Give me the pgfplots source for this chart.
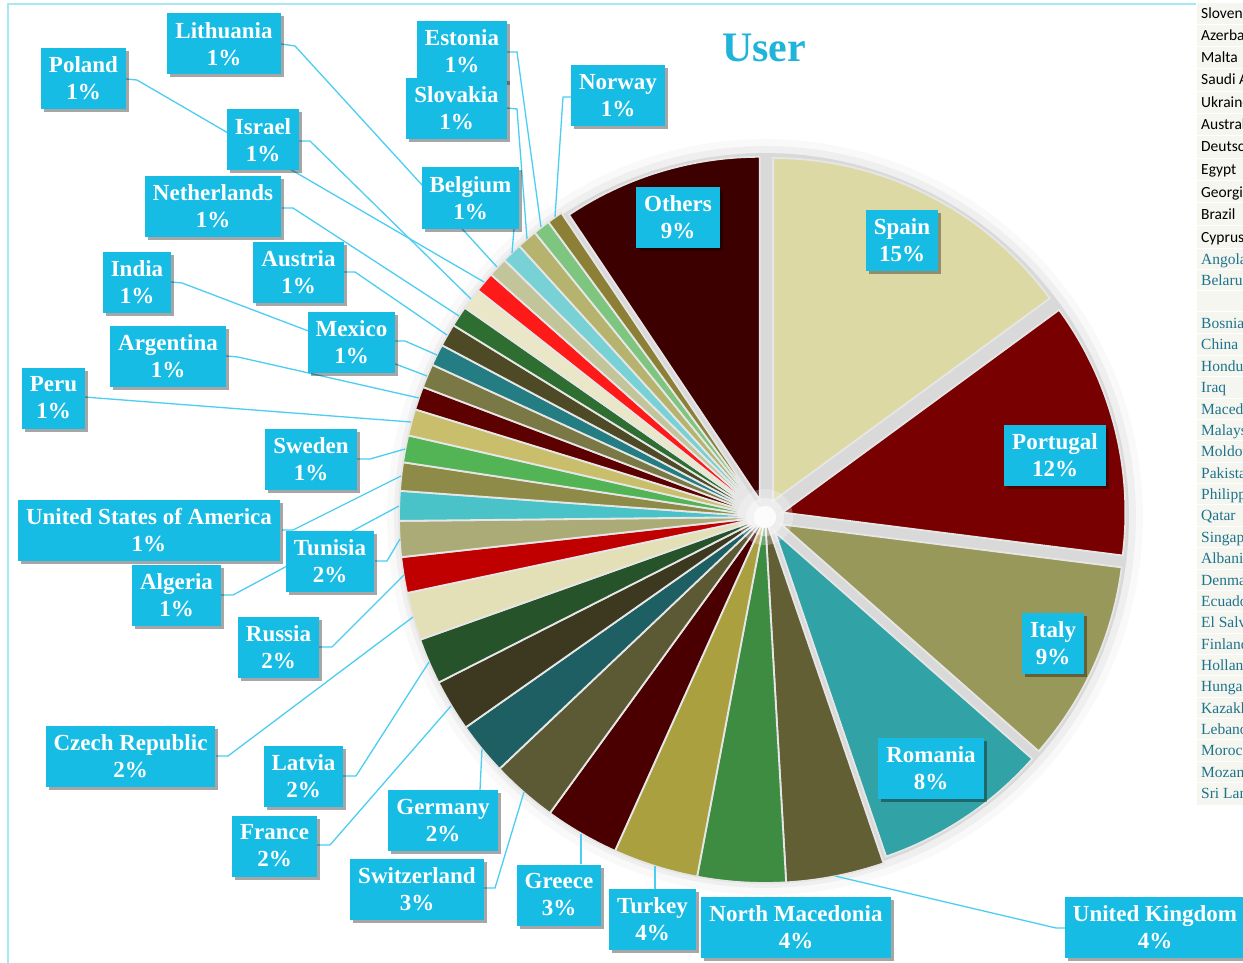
\documentclass[border=0pt]{standalone}
\usepackage{fontspec}
\setmainfont{Liberation Serif}
\newfontfamily\calib{Carlito}
\usepackage{pgfplots}
\pgfplotsset{compat=1.18}
\usetikzlibrary{shadows}

\definecolor{lblcyan}{RGB}{22,188,228}
\definecolor{leadcyan}{RGB}{75,206,242}
\definecolor{titlecyan}{RGB}{33,180,218}
\definecolor{bordercyan}{RGB}{165,232,246}
\definecolor{legblue}{RGB}{30,115,140}
\definecolor{cellbg}{RGB}{246,246,240}
\definecolor{sepcol}{RGB}{230,230,230}
\definecolor{gapgrey}{RGB}{217,217,217}

% slice colours (clockwise from 12 o'clock)
\definecolor{cSpain}{HTML}{DDD9A5}
\definecolor{cPortugal}{HTML}{780000}
\definecolor{cItaly}{HTML}{98985A}
\definecolor{cRomania}{HTML}{31A2A6}
\definecolor{cUK}{HTML}{625F35}
\definecolor{cNMac}{HTML}{3E8C42}
\definecolor{cTurkey}{HTML}{AAA040}
\definecolor{cGreece}{HTML}{4A0000}
\definecolor{cSwitz}{HTML}{5B5A34}
\definecolor{cGermany}{HTML}{1D5F63}
\definecolor{cFrance}{HTML}{3C3920}
\definecolor{cLatvia}{HTML}{27532A}
\definecolor{cCzech}{HTML}{E3DFB6}
\definecolor{cRussia}{HTML}{C00000}
\definecolor{cTunisia}{HTML}{ABAB78}
\definecolor{cAlgeria}{HTML}{4AC3C8}
\definecolor{cUSA}{HTML}{8E8A48}
\definecolor{cSweden}{HTML}{52B455}
\definecolor{cPeru}{HTML}{C9BE6C}
\definecolor{cArgentina}{HTML}{5C0000}
\definecolor{cIndia}{HTML}{7A7845}
\definecolor{cMexico}{HTML}{247D82}
\definecolor{cAustria}{HTML}{4D4A25}
\definecolor{cNether}{HTML}{2E6E30}
\definecolor{cIsrael}{HTML}{EAE6C8}
\definecolor{cPoland}{HTML}{FF1A1A}
\definecolor{cLithuania}{HTML}{C2C49A}
\definecolor{cBelgium}{HTML}{78D2D5}
\definecolor{cSlovakia}{HTML}{B5B36E}
\definecolor{cEstonia}{HTML}{7EC67F}
\definecolor{cNorway}{HTML}{8B8035}
\definecolor{cOthers}{HTML}{3D0000}

% #1 start (cumulative %), #2 end (cumulative %), #3 colour, #4/#5 apex, #6 radius
\newcommand\slice[6]{%
  \addplot[fill=#3, draw=sepcol, line width=1.8pt, domain=#1*3.6:#2*3.6, samples=60, variable=\t]
    ({#4+#6*sin(\t)}, {#5-#6*cos(\t)}) -- (axis cs:#4,#5) -- cycle;
}
\newcommand\disk[3]{% radius, colour, opacity
  \addplot[fill=#2, fill opacity=#3, draw=none, domain=0:360, samples=120, variable=\t]
    ({765+#1*sin(\t)}, {517-#1*cos(\t)}) -- cycle;
}

\tikzset{
  lbl/.style={fill=lblcyan, text=white, font=\bfseries\fontsize{23}{27}\selectfont,
    align=center, inner xsep=8pt, inner ysep=3pt, minimum height=61pt,
    drop shadow={shadow xshift=3pt, shadow yshift=-3pt, fill=black, opacity=0.35}},
  lead/.style={leadcyan, line width=1.3pt},
  legk/.style={anchor=base west, inner sep=0pt, font=\calib\fontsize{15.5}{18}\selectfont, text=black},
  legb/.style={anchor=base west, inner sep=0pt, font=\fontsize{15.5}{18}\selectfont, text=legblue},
}

\begin{document}
\begin{tikzpicture}
\begin{axis}[
  x=1pt, y=1pt,
  xmin=0, xmax=1243, ymin=0, ymax=963,
  y dir=reverse,
  hide axis, clip=true,
  at={(0,0)}, anchor=south west,
]
% background
\addplot[fill=white, draw=none] coordinates {(0,0) (1243,0) (1243,963) (0,963)} -- cycle;

% spreadsheet cells on the right
\addplot[fill=cellbg, draw=none] coordinates {(1197,3) (1243,3) (1243,805) (1197,805)} -- cycle;
\foreach \yy in {25,47,69,91.5,114,136,158.5,181,203,225.5,248,269.5,290,311,333.5,355,376.5,398,419.5,440.5,462,483.5,504.5,526,547.5,569,590.5,611.5,633,654.5,675.5,697,718.5,739.5,761,782.5}{
  \edef\tmp{\noexpand\draw[white, line width=1pt] (axis cs:1197,\yy) -- (axis cs:1243,\yy);}\tmp
}
\node[legk] at (axis cs:1201,19) {Slovenia};
\node[legk] at (axis cs:1201,41) {Azerbaijan};
\node[legk] at (axis cs:1201,63) {Malta};
\node[legk] at (axis cs:1201,85) {Saudi Arabia};
\node[legk] at (axis cs:1201,108) {Ukraine};
\node[legk] at (axis cs:1201,130) {Australia};
\node[legk] at (axis cs:1201,152) {Deutschland};
\node[legk] at (axis cs:1201,175) {Egypt};
\node[legk] at (axis cs:1201,197) {Georgia};
\node[legk] at (axis cs:1201,219) {Brazil};
\node[legk] at (axis cs:1201,242) {Cyprus};
\node[legb] at (axis cs:1201,264) {Angola};
\node[legb] at (axis cs:1201,285) {Belarus};
\node[legb] at (axis cs:1201,328) {Bosnia};
\node[legb] at (axis cs:1201,349) {China};
\node[legb] at (axis cs:1201,371) {Honduras};
\node[legb] at (axis cs:1201,392) {Iraq};
\node[legb] at (axis cs:1201,414) {Macedonia};
\node[legb] at (axis cs:1201,435) {Malaysia};
\node[legb] at (axis cs:1201,456) {Moldova};
\node[legb] at (axis cs:1201,478) {Pakistan};
\node[legb] at (axis cs:1201,499) {Philippines};
\node[legb] at (axis cs:1201,520) {Qatar};
\node[legb] at (axis cs:1201,542) {Singapore};
\node[legb] at (axis cs:1201,563) {Albania};
\node[legb] at (axis cs:1201,585) {Denmark};
\node[legb] at (axis cs:1201,606) {Ecuador};
\node[legb] at (axis cs:1201,627) {El Salvador};
\node[legb] at (axis cs:1201,649) {Finland};
\node[legb] at (axis cs:1201,670) {Holland};
\node[legb] at (axis cs:1201,691) {Hungary};
\node[legb] at (axis cs:1201,713) {Kazakhstan};
\node[legb] at (axis cs:1201,734) {Lebanon};
\node[legb] at (axis cs:1201,755) {Morocco};
\node[legb] at (axis cs:1201,777) {Mozambique};
\node[legb] at (axis cs:1201,798) {Sri Lanka};

% chart area border
\draw[bordercyan, line width=1.5pt] (axis cs:8,963) -- (axis cs:8,4) -- (axis cs:1196,4);

% title
\node[font=\bfseries\fontsize{42}{48}\selectfont, text=titlecyan] at (axis cs:764,48) {User};

% soft shadow under the pie
\disk{378}{black}{0.025}
\disk{371}{black}{0.04}
\disk{364}{gapgrey}{1}

% slices: cumulative shares in percent
\slice{0}{14.94}{cSpain}{773.1}{501.0}{343}
\slice{14.94}{27.00}{cPortugal}{782.4}{512.5}{343}
\slice{27.00}{36.50}{cItaly}{781.4}{524.4}{343}
\slice{36.50}{44.75}{cRomania}{775.0}{532.0}{343}
\slice{44.75}{49.08}{cUK}{765}{517}{366}
\slice{49.08}{52.97}{cNMac}{765}{517}{366}
\slice{52.97}{56.72}{cTurkey}{765}{517}{366}
\slice{56.72}{60.00}{cGreece}{765}{517}{366}
\slice{60.00}{62.92}{cSwitz}{765}{517}{366}
\slice{62.92}{65.25}{cGermany}{765}{517}{366}
\slice{65.25}{67.53}{cFrance}{765}{517}{366}
\slice{67.53}{69.56}{cLatvia}{765}{517}{366}
\slice{69.56}{71.67}{cCzech}{765}{517}{366}
\slice{71.67}{73.25}{cRussia}{765}{517}{366}
\slice{73.25}{74.83}{cTunisia}{765}{517}{366}
\slice{74.83}{76.14}{cAlgeria}{765}{517}{366}
\slice{76.14}{77.39}{cUSA}{765}{517}{366}
\slice{77.39}{78.58}{cSweden}{765}{517}{366}
\slice{78.58}{79.75}{cPeru}{765}{517}{366}
\slice{79.75}{80.78}{cArgentina}{765}{517}{366}
\slice{80.78}{81.83}{cIndia}{765}{517}{366}
\slice{81.83}{82.78}{cMexico}{765}{517}{366}
\slice{82.78}{83.78}{cAustria}{765}{517}{366}
\slice{83.78}{84.69}{cNether}{765}{517}{366}
\slice{84.69}{85.64}{cIsrael}{765}{517}{366}
\slice{85.64}{86.53}{cPoland}{765}{517}{366}
\slice{86.53}{87.39}{cLithuania}{765}{517}{366}
\slice{87.39}{88.28}{cBelgium}{765}{517}{366}
\slice{88.28}{89.17}{cSlovakia}{765}{517}{366}
\slice{89.17}{89.92}{cEstonia}{765}{517}{366}
\slice{89.92}{90.61}{cNorway}{765}{517}{366}
\slice{90.61}{100}{cOthers}{759.8}{499.8}{343}

% white glow at the centre
\addplot[fill=white, fill opacity=0.25, draw=none, domain=0:360, samples=60, variable=\t] ({765+28*sin(\t)},{517-28*cos(\t)}) -- cycle;
\addplot[fill=white, fill opacity=0.4, draw=none, domain=0:360, samples=60, variable=\t] ({765+19*sin(\t)},{517-19*cos(\t)}) -- cycle;
\addplot[fill=white, fill opacity=0.8, draw=none, domain=0:360, samples=60, variable=\t] ({765+11*sin(\t)},{517-11*cos(\t)}) -- cycle;

% leader lines
\draw[lead] (axis cs:281,44) -- (axis cs:295,46) -- (axis cs:497,267);
\draw[lead] (axis cs:126,79) -- (axis cs:137,80) -- (axis cs:484,282);
\draw[lead] (axis cs:507,52) -- (axis cs:517,52) -- (axis cs:541,227);
\draw[lead] (axis cs:507,108) -- (axis cs:517,109) -- (axis cs:527,239);
\draw[lead] (axis cs:571,97) -- (axis cs:563,97) -- (axis cs:555,217);
\draw[lead] (axis cs:514,229) -- (axis cs:512,253);
\draw[lead] (axis cs:299,141) -- (axis cs:310,141) -- (axis cs:471,299);
\draw[lead] (axis cs:282,208) -- (axis cs:293,208) -- (axis cs:459,316);
\draw[lead] (axis cs:344,272) -- (axis cs:355,272) -- (axis cs:447,335);
\draw[lead] (axis cs:171,282) -- (axis cs:182,283) -- (axis cs:427,376);
\draw[lead] (axis cs:395,341) -- (axis cs:405,341) -- (axis cs:437,355);
\draw[lead] (axis cs:226,356) -- (axis cs:238,357) -- (axis cs:419,398);
\draw[lead] (axis cs:85,397) -- (axis cs:97,398) -- (axis cs:411,422);
\draw[lead] (axis cs:357,459) -- (axis cs:370,459) -- (axis cs:405,449);
\draw[lead] (axis cs:282,530) -- (axis cs:293,530) -- (axis cs:401,476);
\draw[lead] (axis cs:375,561) -- (axis cs:387,561) -- (axis cs:400,539);
\draw[lead] (axis cs:221,595) -- (axis cs:233,595) -- (axis cs:399,506);
\draw[lead] (axis cs:319,647) -- (axis cs:332,647) -- (axis cs:404,575);
\draw[lead] (axis cs:216,756) -- (axis cs:228,756) -- (axis cs:413,617);
\draw[lead] (axis cs:343,776) -- (axis cs:356,776) -- (axis cs:429,662);
\draw[lead] (axis cs:317,845) -- (axis cs:330,845) -- (axis cs:451,706);
\draw[lead] (axis cs:480,790) -- (axis cs:482,749);
\draw[lead] (axis cs:484,888) -- (axis cs:495,888) -- (axis cs:524,792);
\draw[lead] (axis cs:581,864) -- (axis cs:581,834);
\draw[lead] (axis cs:655,890) -- (axis cs:655,866);
\draw[lead] (axis cs:1066,928) -- (axis cs:1056,928) -- (axis cs:835,876);

% data labels
\node[lbl] at (axis cs:224,44) {Lithuania\\1\%};
\node[lbl] at (axis cs:83.5,78.5) {Poland\\1\%};
\node[lbl] at (axis cs:462,51.5) {Estonia\\1\%};
\node[lbl] at (axis cs:456.5,108.5) {Slovakia\\1\%};
\node[lbl] at (axis cs:618,96) {Norway\\1\%};
\node[lbl] at (axis cs:470.5,198) {Belgium\\1\%};
\node[lbl] at (axis cs:263,140) {Israel\\1\%};
\node[lbl] at (axis cs:213,206.5) {Netherlands\\1\%};
\node[lbl] at (axis cs:298.5,272.5) {Austria\\1\%};
\node[lbl] at (axis cs:137,282) {India\\1\%};
\node[lbl] at (axis cs:351.5,342.5) {Mexico\\1\%};
\node[lbl] at (axis cs:168,356.5) {Argentina\\1\%};
\node[lbl] at (axis cs:53.5,398) {Peru\\1\%};
\node[lbl] at (axis cs:311,459) {Sweden\\1\%};
\node[lbl] at (axis cs:149,530) {United States of America\\1\%};
\node[lbl] at (axis cs:330,561) {Tunisia\\2\%};
\node[lbl] at (axis cs:176.5,595.5) {Algeria\\1\%};
\node[lbl] at (axis cs:278.5,647) {Russia\\2\%};
\node[lbl] at (axis cs:130.5,756) {Czech Republic\\2\%};
\node[lbl] at (axis cs:303.5,776.5) {Latvia\\2\%};
\node[lbl] at (axis cs:274.5,846) {France\\2\%};
\node[lbl] at (axis cs:443,820.5) {Germany\\2\%};
\node[lbl] at (axis cs:417,889) {Switzerland\\3\%};
\node[lbl] at (axis cs:559,895) {Greece\\3\%};
\node[lbl] at (axis cs:652.5,919) {Turkey\\4\%};
\node[lbl] at (axis cs:796,927) {North Macedonia\\4\%};
\node[lbl] at (axis cs:1155,927) {United Kingdom\\4\%};
\node[lbl] at (axis cs:931,768.5) {Romania\\8\%};
\node[lbl] at (axis cs:1053,643.5) {Italy\\9\%};
\node[lbl] at (axis cs:1055,455.5) {Portugal\\12\%};
\node[lbl] at (axis cs:902,240) {Spain\\15\%};
\node[lbl] at (axis cs:678,217.5) {Others\\9\%};
\end{axis}
\pgfresetboundingbox
\useasboundingbox (0,0) rectangle (1243pt,963pt);
\end{tikzpicture}
\end{document}
